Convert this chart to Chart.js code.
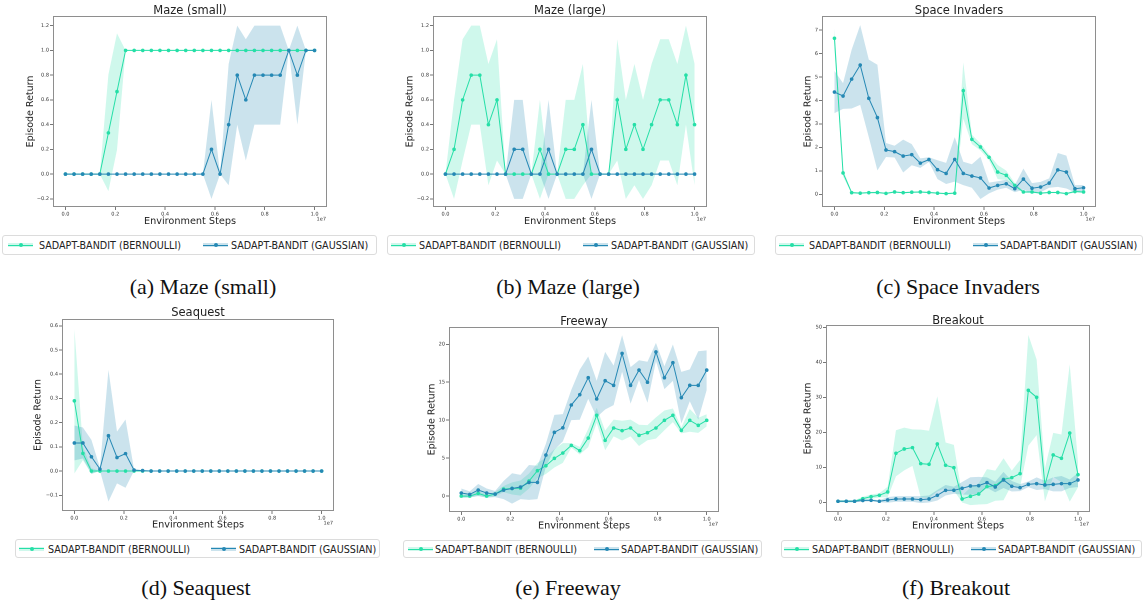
<!DOCTYPE html>
<html>
<head>
<meta charset="utf-8">
<script src="https://cdn.jsdelivr.net/npm/chart.js@4.4.1/dist/chart.umd.min.js"></script>
<style>
  html,body{margin:0;padding:0;background:#fff;}
  body{width:1144px;height:603px;position:relative;overflow:hidden;font-family:"DejaVu Sans",sans-serif;color:#222;}
  canvas.cv{position:absolute;}
  .ttl{position:absolute;font-size:11.5px;white-space:nowrap;transform:translate(-50%,-50%);color:#222;}
  .cap{position:absolute;font-family:"Liberation Serif",serif;font-size:22px;white-space:nowrap;transform:translate(-50%,-50%);color:#111;}
  .leg{position:absolute;border:1px solid #dcdcdc;border-radius:3px;box-sizing:border-box;background:#fff;}
  .hd{position:absolute;top:50%;width:25px;height:6px;margin-top:-3px;}
  .hd .bd{position:absolute;left:0;right:0;top:1px;height:4px;}
  .hd .ln{position:absolute;left:0;right:0;top:2.5px;height:1px;}
  .hd .dt{position:absolute;left:10.5px;top:1px;width:4px;height:4px;border-radius:50%;}
  .lt{position:absolute;top:50%;transform:translateY(-50%);font-size:9.6px;white-space:nowrap;color:#222;}
</style>
</head>
<body>
<script>
// ---------------- DATA ----------------
const steps = [0,0.0345,0.069,0.1034,0.1379,0.1724,0.2069,0.2414,0.2759,0.3103,0.3448,0.3793,0.4138,0.4483,0.4828,0.5172,0.5517,0.5862,0.6207,0.6552,0.6897,0.7241,0.7586,0.7931,0.8276,0.8621,0.8966,0.931,0.9655,1.0];
const xTicks = [0,0.2,0.4,0.6,0.8,1.0];
const seriesNames = ['SADAPT-BANDIT (BERNOULLI)','SADAPT-BANDIT (GAUSSIAN)'];

// Maze (small)
const mazeSmallBernMean = [0,0,0,0,0,0.333,0.667,1,1,1,1,1,1,1,1,1,1,1,1,1,1,1,1,1,1,1,1,1,1,1];
const mazeSmallBernStd  = [0,0,0,0,0,0.471,0.471,0,0,0,0,0,0,0,0,0,0,0,0,0,0,0,0,0,0,0,0,0,0,0];
const mazeSmallGaussMean= [0,0,0,0,0,0,0,0,0,0,0,0,0,0,0,0,0,0.2,0,0.4,0.8,0.6,0.8,0.8,0.8,0.8,1,0.8,1,1];
const mazeSmallGaussStd = [0,0,0,0,0,0,0,0,0,0,0,0,0,0,0,0,0,0.4,0,0.49,0.4,0.49,0.4,0.4,0.4,0.4,0,0.4,0,0];

// Maze (large)
const mazeLargeBernMean = [0,0.2,0.6,0.8,0.8,0.4,0.6,0,0,0,0,0.2,0,0,0.2,0.2,0.4,0,0,0,0.6,0.2,0.4,0.2,0.4,0.6,0.6,0.4,0.8,0.4];
const mazeLargeBernStd  = [0,0.4,0.49,0.4,0.4,0.49,0.49,0,0,0,0,0.4,0,0,0.4,0.4,0.49,0,0,0,0.49,0.4,0.49,0.4,0.49,0.49,0.49,0.49,0.4,0.49];
const mazeLargeGaussMean= [0,0,0,0,0,0,0,0,0.2,0.2,0,0,0.2,0,0,0,0,0.2,0,0,0,0,0,0,0,0,0,0,0,0];
const mazeLargeGaussStd = [0,0,0,0,0,0,0,0,0.4,0.4,0,0,0.4,0,0,0,0,0.4,0,0,0,0,0,0,0,0,0,0,0,0];

// Space Invaders
const spaceBernMean = [6.65,0.91,0.07,0.05,0.07,0.08,0.04,0.1,0.07,0.09,0.1,0.08,0.05,0.03,0.05,4.42,2.34,2.02,1.58,0.95,0.81,0.38,0.1,0.1,0.05,0.08,0.08,0.03,0.12,0.1];
const spaceBernStd  = [0.45,0.15,0.04,0.03,0.03,0.03,0.03,0.03,0.03,0.03,0.03,0.03,0.03,0.03,0.03,1.2,0.2,0.15,0.12,0.3,0.2,0.1,0.04,0.04,0.03,0.03,0.03,0.03,0.05,0.05];
const spaceGaussMean= [4.36,4.19,4.91,5.51,4.09,3.27,1.89,1.82,1.63,1.69,1.33,1.48,1.05,0.89,1.49,0.89,0.78,0.7,0.27,0.38,0.45,0.24,0.65,0.26,0.31,0.48,1.04,0.95,0.24,0.28];
const spaceGaussStd = [0.9,0.55,1.25,1.7,1.65,2.25,0.3,0.25,0.7,0.45,0.2,0.1,0.4,0.45,0.95,0.5,0.5,0.9,0.23,0.18,0.17,0.15,0.45,0.22,0.22,0.2,0.72,0.7,0.15,0.12];

// Seaquest
const seaBernMean = [0.29,0.073,0,0,0,0,0,0,0,0,0,0,0,0,0,0,0,0,0,0,0,0,0,0,0,0,0,0,0,0];
const seaBernStd  = [0.3,0.028,0.012,0,0,0,0,0,0,0,0,0,0,0,0,0,0,0,0,0,0,0,0,0,0,0,0,0,0,0];
const seaGaussMean= [0.116,0.116,0.059,0.008,0.146,0.056,0.072,0.004,0.002,0,0,0,0,0,0,0,0,0,0,0,0,0,0,0,0,0,0,0,0,0];
const seaGaussStd = [0.072,0.064,0.07,0.006,0.272,0.107,0.141,0.003,0.002,0,0,0,0,0,0,0,0,0,0,0,0,0,0,0,0,0,0,0,0,0];

// Freeway
const freeBernMean = [0,0,0.35,0,0.26,0.92,1.0,1.05,1.98,3.34,4.0,4.97,5.67,6.68,5.98,7.65,10.64,7.34,8.97,8.62,8.97,8.0,8.35,8.97,9.98,10.64,8.66,9.98,9.32,9.98];
const freeBernStd  = [0.2,0.2,0.3,0.2,0.3,0.4,0.8,1.0,1.0,1.0,1.1,1.2,1.3,0.3,0.5,1.2,1.0,1.3,1.1,1.3,1.1,1.4,1.0,1.4,1.3,0.9,0.4,1.5,1.0,0.8];
const freeGaussMean= [0.4,0.22,0.79,0.4,0.26,0.79,1.0,1.19,1.8,1.8,5.4,8.4,9.0,12.0,13.36,15.6,12.79,15.2,14.59,18.8,14.59,16.6,15.0,18.99,15.6,17.58,12.97,14.59,14.59,16.6];
const freeGaussStd = [0.6,0.4,0.8,0.6,0.4,1.2,2.0,1.6,2.3,2.2,1.5,2.3,1.8,2.0,3.3,2.8,2.4,3.8,2.6,2.4,2.4,1.3,2.7,1.2,1.5,2.4,3.4,2.1,4.5,2.6];

// Breakout
const breakBernMean = [0.3,0.3,0.3,1.05,1.62,2.0,2.95,14.0,15.24,15.62,11.05,10.86,16.67,10.57,9.9,0.95,1.71,2.38,4.48,4.76,6.57,7.05,8.19,32.0,30.0,4.95,13.52,12.57,19.8,7.9];
const breakBernStd  = [0.3,0.3,0.3,0.5,0.6,0.6,1.5,6.6,6.1,5.2,9.7,9.6,13.6,6.5,6.5,1.0,2.5,3.0,5.0,4.3,6.0,2.0,3.9,15.8,10.8,4.7,6.3,6.8,19.6,3.6];
const breakGaussMean= [0.3,0.3,0.3,0.5,0.57,0.3,0.67,0.95,0.95,0.95,0.76,0.95,2.0,3.43,3.43,4.0,4.67,4.76,5.62,4.38,6.38,4.57,4.19,5.14,5.33,4.95,5.14,5.33,5.33,6.38];
const breakGaussStd = [0.3,0.3,0.3,0.3,0.3,0.3,0.8,0.8,0.8,0.8,1.0,1.0,1.5,1.5,1.0,1.8,2.5,2.5,1.5,1.5,2.3,1.5,1.0,0.8,1.8,1.2,2.0,2.2,1.2,2.0];

// Y tick labels
const yTicksMaze  = [-0.2,0,0.2,0.4,0.6,0.8,1.0,1.2];
const yTicksSpace = [0,1,2,3,4,5,6,7];
const yTicksSea   = [-0.1,0,0.1,0.2,0.3,0.4,0.5,0.6];
const yTicksFree  = [0,5,10,15,20];
const yTicksBreak = [0,10,20,30,40,50];

// ---------------- STYLE / LAYOUT ----------------
const GREEN = '#25dfa7', GREEN_BAND = 'rgba(37,223,167,0.22)';
const BLUE  = '#2588b4', BLUE_BAND  = 'rgba(37,136,180,0.24)';

const panels = [
  {title:'Maze (small)', caption:'(a) Maze (small)', bm:mazeSmallBernMean, bs:mazeSmallBernStd, gm:mazeSmallGaussMean, gs:mazeSmallGaussStd,
   yt:yTicksMaze, dec:1, ymin:-0.266, ymax:1.278,
   g:{cl:0,ct:4,cw:340,ch:225,L:53,R:327,T:16,B:207,yl:30.7,xl:221.7,tx:190,ty:10,cx:203,cy:287,
      lg:{x:2,y:235,w:375,h:20,h1:7,t1:38,h2:202,t2:230}}},
  {title:'Maze (large)', caption:'(b) Maze (large)', bm:mazeLargeBernMean, bs:mazeLargeBernStd, gm:mazeLargeGaussMean, gs:mazeLargeGaussStd,
   yt:yTicksMaze, dec:1, ymin:-0.266, ymax:1.278,
   g:{cl:385,ct:4,cw:335,ch:225,L:433,R:707,T:16,B:207,yl:410,xl:221.7,tx:570,ty:10,cx:568,cy:287,
      lg:{x:387,y:235,w:368,h:20,h1:390,t1:418,h2:582,t2:610}}},
  {title:'Space Invaders', caption:'(c) Space Invaders', bm:spaceBernMean, bs:spaceBernStd, gm:spaceGaussMean, gs:spaceGaussStd,
   yt:yTicksSpace, dec:0, ymin:-0.54, ymax:7.6,
   g:{cl:770,ct:4,cw:374,ch:225,L:822,R:1096,T:16,B:207,yl:808,xl:221.7,tx:959,ty:10,cx:958,cy:287,
      lg:{x:775,y:235,w:368,h:20,h1:778,t1:808,h2:972,t2:999}}},
  {title:'Seaquest', caption:'(d) Seaquest', bm:seaBernMean, bs:seaBernStd, gm:seaGaussMean, gs:seaGaussStd,
   yt:yTicksSea, dec:1, ymin:-0.165, ymax:0.628,
   g:{cl:0,ct:311,cw:345,ch:222,L:62,R:334,T:319,B:511,yl:38,xl:525,tx:198,ty:312,cx:196,cy:588,
      lg:{x:15,y:539,w:365,h:19,h1:18,t1:47,h2:210,t2:238}}},
  {title:'Freeway', caption:'(e) Freeway', bm:freeBernMean, bs:freeBernStd, gm:freeGaussMean, gs:freeGaussStd,
   yt:yTicksFree, dec:0, ymin:-2.1, ymax:22.28,
   g:{cl:385,ct:318,cw:345,ch:216,L:449,R:719,T:327,B:512,yl:432,xl:526,tx:584,ty:321,cx:568,cy:588,
      lg:{x:403,y:540,w:359,h:18,h1:407,t1:434,h2:593,t2:620}}},
  {title:'Breakout', caption:'(f) Breakout', bm:breakBernMean, bs:breakBernStd, gm:breakGaussMean, gs:breakGaussStd,
   yt:yTicksBreak, dec:0, ymin:-2.77, ymax:50.66,
   g:{cl:770,ct:316,cw:374,ch:218,L:826,R:1090,T:325,B:512,yl:808,xl:526,tx:958,ty:320,cx:956,cy:588,
      lg:{x:781,y:540,w:361,h:18,h1:783,t1:811,h2:970,t2:997}}}
];

const fmt = (v, dec) => (v < -1e-9 ? '\u2212' : '') + Math.abs(v).toFixed(dec);

const framePlugin = {
  id: 'frame',
  afterDraw(chart) {
    const {ctx, chartArea: a} = chart;
    ctx.save();
    ctx.strokeStyle = '#8e8e8e';
    ctx.lineWidth = 1;
    ctx.strokeRect(Math.round(a.left) + 0.5, Math.round(a.top) + 0.5, Math.round(a.right - a.left) - 1, Math.round(a.bottom - a.top) - 1);
    ctx.fillStyle = '#333';
    ctx.font = '5px "DejaVu Sans"';
    ctx.textAlign = 'right';
    ctx.textBaseline = 'middle';
    ctx.fillText('1e7', a.right - 1, a.bottom + 12);
    ctx.restore();
  }
};

function pts(mean, std, sign) {
  return steps.map((x, i) => ({x: x, y: mean[i] + sign * std[i]}));
}

function el(tag, cls, style, text) {
  const e = document.createElement(tag);
  if (cls) e.className = cls;
  if (style) Object.assign(e.style, style);
  if (text !== undefined) e.textContent = text;
  document.body.appendChild(e);
  return e;
}

panels.forEach(p => {
  const g = p.g;
  const cv = document.createElement('canvas');
  cv.className = 'cv';
  cv.width = g.cw; cv.height = g.ch;
  cv.style.left = g.cl + 'px'; cv.style.top = g.ct + 'px';
  cv.style.width = g.cw + 'px'; cv.style.height = g.ch + 'px';
  document.body.appendChild(cv);

  const yAxisW = g.L - g.cl;
  const xAxisH = (g.ct + g.ch) - g.B;
  const tickFont = {size: 5, family: '"DejaVu Sans"'};

  const datasets = [
    {data: pts(p.bm, p.bs, 1), borderWidth: 0, borderColor: 'transparent', pointRadius: 0, fill: false, order: 4},
    {data: pts(p.bm, p.bs, -1), borderWidth: 0, borderColor: 'transparent', pointRadius: 0, fill: '-1', backgroundColor: GREEN_BAND, order: 4},
    {data: pts(p.gm, p.gs, 1), borderWidth: 0, borderColor: 'transparent', pointRadius: 0, fill: false, order: 3},
    {data: pts(p.gm, p.gs, -1), borderWidth: 0, borderColor: 'transparent', pointRadius: 0, fill: '-1', backgroundColor: BLUE_BAND, order: 3},
    {label: seriesNames[0], data: pts(p.bm, p.bs, 0), borderColor: GREEN, borderWidth: 1, pointRadius: 1.8, pointBackgroundColor: GREEN, pointBorderWidth: 0, fill: false, tension: 0, order: 2},
    {label: seriesNames[1], data: pts(p.gm, p.gs, 0), borderColor: BLUE, borderWidth: 1, pointRadius: 1.8, pointBackgroundColor: BLUE, pointBorderWidth: 0, fill: false, tension: 0, order: 1}
  ];

  new Chart(cv, {
    type: 'line',
    data: {datasets},
    plugins: [framePlugin],
    options: {
      responsive: false,
      animation: false,
      devicePixelRatio: 2,
      layout: {padding: {top: g.T - g.ct, right: (g.cl + g.cw) - g.R, left: 0, bottom: 0}},
      plugins: {legend: {display: false}, tooltip: {enabled: false}, title: {display: false}},
      scales: {
        x: {
          type: 'linear', min: -0.05, max: 1.05,
          afterBuildTicks: s => { s.ticks = xTicks.map(v => ({value: v})); },
          afterFit: s => { s.height = xAxisH; },
          ticks: {font: tickFont, color: '#333', padding: 1, maxRotation: 0, autoSkip: false, callback: v => fmt(v, 1)},
          grid: {display: true, drawOnChartArea: false, drawTicks: true, tickLength: 3, tickColor: '#555', lineWidth: 0.8},
          border: {display: false},
          title: {display: true, text: 'Environment Steps', color: '#222',
                  font: {size: 9.7, family: '"DejaVu Sans"', lineHeight: 1.2},
                  padding: {top: 0, bottom: (g.ct + g.ch) - g.xl - 5.82}}
        },
        y: {
          type: 'linear', min: p.ymin, max: p.ymax,
          afterBuildTicks: s => { s.ticks = p.yt.map(v => ({value: v})); },
          afterFit: s => { s.width = yAxisW; },
          ticks: {font: tickFont, color: '#333', padding: 1, autoSkip: false, callback: v => fmt(v, p.dec)},
          grid: {display: true, drawOnChartArea: false, drawTicks: true, tickLength: 3, tickColor: '#555', lineWidth: 0.8},
          border: {display: false},
          title: {display: true, text: 'Episode Return', color: '#222',
                  font: {size: 9.5, family: '"DejaVu Sans"', lineHeight: 1.2},
                  padding: {top: g.yl - g.cl - 5.7, bottom: 0}}
        }
      }
    }
  });

  el('div', 'ttl', {left: g.tx + 'px', top: g.ty + 'px'}, p.title);
  el('div', 'cap', {left: g.cx + 'px', top: g.cy + 'px'}, p.caption);

  const lg = g.lg;
  const box = el('div', 'leg', {left: lg.x + 'px', top: lg.y + 'px', width: lg.w + 'px', height: lg.h + 'px'});
  [[lg.h1, lg.t1, GREEN, GREEN_BAND, seriesNames[0]], [lg.h2, lg.t2, BLUE, BLUE_BAND, seriesNames[1]]].forEach(it => {
    const hd = document.createElement('div'); hd.className = 'hd'; hd.style.left = (it[0] - lg.x) + 'px';
    const bd = document.createElement('div'); bd.className = 'bd'; bd.style.background = it[3];
    const ln = document.createElement('div'); ln.className = 'ln'; ln.style.background = it[2];
    const dt = document.createElement('div'); dt.className = 'dt'; dt.style.background = it[2];
    hd.appendChild(bd); hd.appendChild(ln); hd.appendChild(dt); box.appendChild(hd);
    const t = document.createElement('div'); t.className = 'lt'; t.style.left = (it[1] - lg.x) + 'px'; t.textContent = it[4];
    box.appendChild(t);
  });
});
</script>
</body>
</html>
